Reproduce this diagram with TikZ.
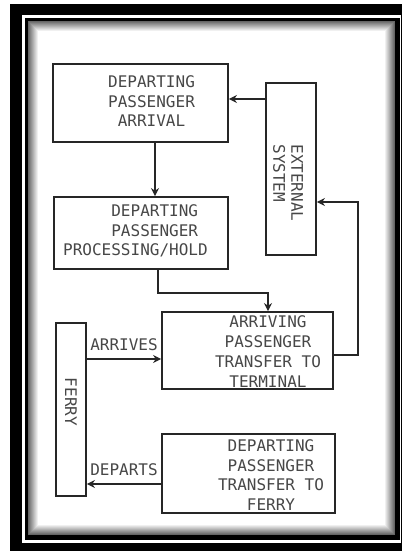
\documentclass[tikz,border=0pt]{standalone}
\usepackage{fontspec}
\newfontfamily\monofam{DejaVu Sans Mono}
\usetikzlibrary{arrows.meta}
\begin{document}
\begin{tikzpicture}[x=1pt,y=-1pt,
  box/.style={draw=black!85, line width=1.8pt, rectangle, inner sep=0pt},
  txt/.style={font=\monofam\fontsize{16}{19.5}\selectfont, text=black!72, inner sep=0pt},
  rtxt/.style={font=\monofam\fontsize{16}{18}\selectfont, text=black!72, inner sep=0pt, rotate=-90, align=left},
  arr/.style={draw=black!85, line width=1.8pt, -{Stealth[length=8pt,width=8pt]}}]
\useasboundingbox (0,0) rectangle (402,551);
% frame
\fill[white] (0,0) rectangle (402,551);
\fill[black] (10,4) rectangle (402,551);
\fill[white] (22,15) rectangle (401,543);
\fill[black] (25,18) rectangle (400,540);
\fill[white] (28,21) rectangle (395,535);
\foreach \i [evaluate=\i as \c using 60-6*\i] in {0,...,9}
  {\draw[line width=1.1pt, black!\c] (28.5+\i,21.5+\i) rectangle (394.5-\i,534.5-\i);}
% boxes
\node[box, minimum width=175pt, minimum height=78pt] (b1) at (140.5,103) {};
\node[box, minimum width=174pt, minimum height=72pt] (b2) at (141,233) {};
\node[box, minimum width=171pt, minimum height=77pt] (b3) at (247.5,350.5) {};
\node[box, minimum width=173pt, minimum height=79pt] (b4) at (248.5,473.5) {};
\node[box, minimum width=50pt, minimum height=172pt] (ext) at (291,169) {};
\node[box, minimum width=30pt, minimum height=173pt] (ferry) at (71,409.5) {};
% texts
\node[txt, align=left, anchor=west] (t1) at (108,101.5) {DEPARTING\\PASSENGER\\\phantom{X}ARRIVAL};
\node[txt, align=left, anchor=west] (t2) at (63,231) {\phantom{XXXXX}DEPARTING\\\phantom{XXXXX}PASSENGER\\PROCESSING/HOLD};
\node[txt, align=center, font=\monofam\fontsize{16}{20}\selectfont] (t3) at (268,352) {ARRIVING\\PASSENGER\\TRANSFER TO\\TERMINAL};
\node[txt, align=center] (t4) at (271,475) {DEPARTING\\PASSENGER\\TRANSFER TO\\FERRY};
\node[rtxt] (t5) at (288,183) {EXTERNAL\\SYSTEM};
\node[rtxt] (t6) at (71,402) {FERRY};
% helper coordinates
\coordinate (y1) at (0,99);
\coordinate (x2) at (155,0);
\coordinate (k1) at (158,293);
\coordinate (k2) at (268,293);
\coordinate (k3) at (358,355);
\coordinate (k4) at (358,202);
\coordinate (y5) at (0,359);
\coordinate (y6) at (0,484);
% connectors
\draw[arr] (ext.west |- y1) -- (b1.east |- y1);
\draw[arr] (b1.south -| x2) -- (b2.north -| x2);
\draw[arr] (b2.south -| k1) -- (k1) -- (k2) -- (b3.north -| k2);
\draw[arr] (b3.east |- k3) -- (k3) -- (k4) -- (ext.east |- k4);
\draw[arr] (ferry.east |- y5) -- node[txt, above=7pt] (l1) {ARRIVES} (b3.west |- y5);
\draw[arr] (b4.west |- y6) -- node[txt, above=7pt] (l2) {DEPARTS} (ferry.east |- y6);
\end{tikzpicture}
\end{document}
